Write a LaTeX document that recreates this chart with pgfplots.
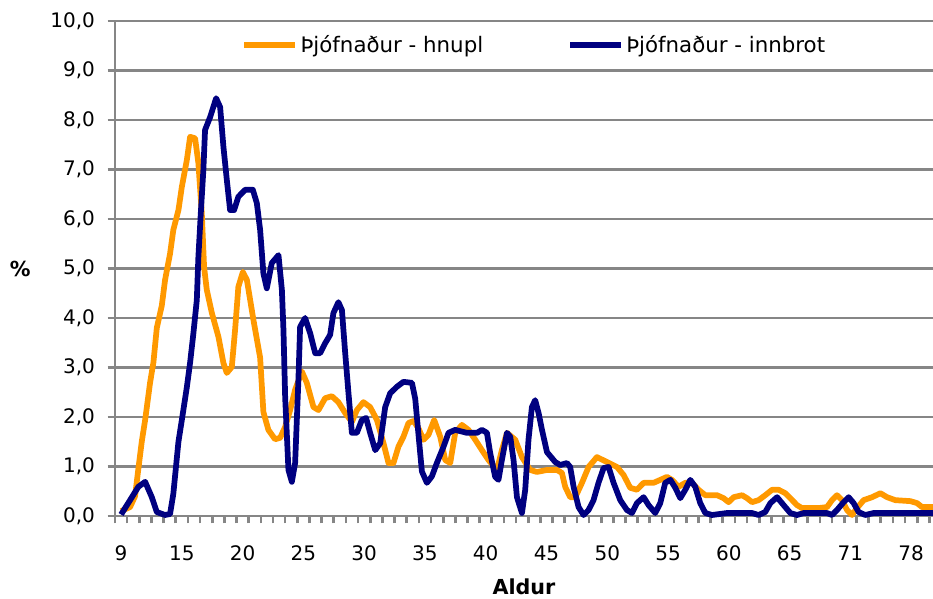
\documentclass[border=0pt]{standalone}
\usepackage{fontspec}
\setmainfont{DejaVu Sans}
\usepackage{pgfplots}
\pgfplotsset{compat=1.18}
\definecolor{hnupl}{RGB}{255,153,0}
\definecolor{innbrot}{RGB}{0,0,128}
\definecolor{gridgray}{RGB}{134,134,134}
\begin{document}
\begin{tikzpicture}
\useasboundingbox (-86.25pt,-62.25pt) rectangle (613.5pt,387pt);
\begin{axis}[
  at={(0,0)}, anchor=south west,
  scale only axis, width=613.5pt, height=371.25pt,
  xmin=-0.5, xmax=66.8, ymin=0, ymax=10,
  clip=false,
  axis x line*=bottom, axis y line*=left,
  axis line style={-, draw=gridgray, line width=2.2pt},
  ytick={0,1,...,10},
  ymajorgrids, major grid style={draw=gridgray, line width=2.2pt},
  tick align=outside, major tick length=5.5pt,
  tick style={draw=gridgray, line width=2pt},
  xtick={-0.5,0.5,...,66.5}, xticklabels={},
  extra x ticks={0,5,...,65},
  extra x tick labels={9,15,20,25,30,35,40,45,50,55,60,65,71,78},
  extra x tick style={major tick length=0pt},
  xticklabel style={yshift=-19pt},
  /pgf/number format/assume math mode=true,
  yticklabel style={xshift=-6pt, /pgf/number format/.cd, fixed, fixed zerofill, precision=1, use comma},
  tick label style={font=\fontsize{15}{18}\selectfont},
  label style={font=\bfseries\fontsize{15.5}{18}\selectfont},
  ylabel={\%},
  ylabel style={rotate=-90, at={(axis description cs:-0.116,0.5)}, anchor=center},
  xlabel={Aldur},
  xlabel style={at={(axis description cs:0.5,-0.143)}, anchor=center},
  legend style={at={(axis description cs:0.513,0.951)}, anchor=center, draw=none, fill=none,
    font=\fontsize{16}{19}\selectfont, legend columns=2,
    /tikz/every even column/.append style={column sep=61pt}},
  legend image code/.code={\draw[#1] (0pt,0pt) -- (38pt,0pt);},
]
\addplot[draw=hnupl, line width=4.3pt, line join=round, no markers] coordinates {
(0,0.10)(0.74,0.18)(1.15,0.40)(1.42,0.95)(1.70,1.50)(1.98,1.94)(2.39,2.70)(2.66,3.10)(2.94,3.80)(3.35,4.25)(3.62,4.77)(4.03,5.30)(4.30,5.78)(4.72,6.18)(5.00,6.65)(5.41,7.19)(5.68,7.66)(6.09,7.63)(6.36,7.13)(6.64,6.12)(6.83,5.03)(7.05,4.57)(7.47,4.10)(8.01,3.62)(8.42,3.09)(8.70,2.89)(9.11,3.01)(9.38,3.76)(9.65,4.63)(10.02,4.93)(10.35,4.77)(10.89,3.96)(11.44,3.20)(11.71,2.10)(12.12,1.74)(12.67,1.55)(13.09,1.58)(13.50,1.80)(13.91,2.14)(14.32,2.55)(14.87,2.92)(15.28,2.69)(15.83,2.20)(16.24,2.14)(16.79,2.38)(17.34,2.42)(17.88,2.30)(18.44,2.08)(18.99,1.90)(19.40,2.14)(19.94,2.30)(20.49,2.20)(21.05,1.94)(21.59,1.47)(22.00,1.07)(22.41,1.07)(22.82,1.40)(23.23,1.60)(23.65,1.88)(24.06,1.92)(24.47,1.77)(24.88,1.54)(25.29,1.64)(25.76,1.94)(26.26,1.60)(26.67,1.13)(27.08,1.07)(27.49,1.68)(28.04,1.84)(28.58,1.74)(29.14,1.54)(29.69,1.33)(30.23,1.13)(30.92,0.93)(31.33,1.33)(31.75,1.68)(32.43,1.54)(32.98,1.19)(33.66,0.93)(34.21,0.89)(35.04,0.93)(35.86,0.93)(36.27,0.87)(36.54,0.59)(36.95,0.38)(37.37,0.38)(37.92,0.67)(38.46,0.99)(39.15,1.19)(39.98,1.09)(40.80,0.99)(41.34,0.83)(41.89,0.57)(42.44,0.53)(42.99,0.67)(43.81,0.67)(44.36,0.73)(44.91,0.79)(45.32,0.73)(45.87,0.59)(46.42,0.67)(46.97,0.67)(47.51,0.53)(48.07,0.42)(49.03,0.42)(49.57,0.36)(49.98,0.28)(50.40,0.38)(51.09,0.42)(51.50,0.36)(51.91,0.28)(52.45,0.32)(53.00,0.42)(53.56,0.53)(54.10,0.53)(54.65,0.46)(55.06,0.36)(55.61,0.22)(56.02,0.16)(57.39,0.16)(58.08,0.18)(58.49,0.32)(58.90,0.42)(59.32,0.32)(59.73,0.12)(60.14,0.02)(60.55,0.16)(61.09,0.32)(61.79,0.38)(62.47,0.46)(63.02,0.38)(63.70,0.32)(64.94,0.30)(65.49,0.26)(65.90,0.18)(66.80,0.18)
};
\addlegendentry{Þjófnaður - hnupl}
\addplot[draw=innbrot, line width=4.3pt, line join=round, no markers] coordinates {
(0,0.03)(0.74,0.32)(1.42,0.59)(1.98,0.69)(2.53,0.38)(2.94,0.08)(3.62,0.02)(4.03,0.04)(4.30,0.45)(4.72,1.50)(5.00,1.94)(5.41,2.60)(5.68,3.10)(5.95,3.69)(6.23,4.36)(6.36,5.23)(6.56,6.12)(6.77,6.99)(6.91,7.80)(7.33,8.06)(7.82,8.44)(8.15,8.26)(8.42,7.46)(8.70,6.79)(8.97,6.18)(9.30,6.18)(9.65,6.45)(10.21,6.59)(10.84,6.59)(11.17,6.32)(11.44,5.78)(11.71,4.90)(11.99,4.60)(12.40,5.11)(12.95,5.27)(13.23,4.57)(13.36,3.76)(13.50,2.40)(13.77,0.93)(14.05,0.69)(14.32,1.07)(14.59,2.75)(14.73,3.82)(15.14,4.00)(15.56,3.69)(15.97,3.29)(16.38,3.29)(16.79,3.49)(17.20,3.66)(17.47,4.10)(17.88,4.32)(18.17,4.16)(18.44,3.29)(18.71,2.48)(18.99,1.68)(19.40,1.68)(19.81,1.94)(20.16,1.98)(20.49,1.68)(20.91,1.33)(21.32,1.47)(21.73,2.20)(22.14,2.48)(22.69,2.61)(23.23,2.71)(23.93,2.69)(24.20,2.37)(24.47,1.64)(24.75,0.90)(25.16,0.67)(25.57,0.80)(25.98,1.07)(26.53,1.40)(26.94,1.68)(27.49,1.74)(28.45,1.68)(29.28,1.68)(29.69,1.74)(30.10,1.68)(30.37,1.27)(30.78,0.79)(31.05,0.73)(31.33,1.13)(31.75,1.68)(32.02,1.60)(32.29,1.13)(32.57,0.38)(32.98,0.06)(33.25,0.53)(33.52,1.54)(33.80,2.20)(34.07,2.34)(34.35,2.08)(34.63,1.74)(35.04,1.29)(35.72,1.09)(36.13,1.03)(36.68,1.07)(36.95,0.99)(37.23,0.59)(37.64,0.18)(38.05,0.02)(38.46,0.12)(38.87,0.32)(39.28,0.67)(39.70,0.97)(40.11,0.99)(40.52,0.67)(41.07,0.32)(41.62,0.12)(42.03,0.06)(42.44,0.26)(42.99,0.38)(43.40,0.22)(43.95,0.06)(44.36,0.26)(44.77,0.67)(45.19,0.73)(45.60,0.57)(46.01,0.36)(46.42,0.53)(46.83,0.73)(47.24,0.59)(47.65,0.26)(48.07,0.06)(48.62,0.02)(49.85,0.06)(51.91,0.06)(52.45,0.02)(53.00,0.08)(53.42,0.26)(53.97,0.38)(54.51,0.22)(55.06,0.06)(55.61,0.02)(56.16,0.06)(58.08,0.06)(58.49,0.02)(58.90,0.12)(59.45,0.28)(59.86,0.38)(60.27,0.26)(60.68,0.08)(61.23,0.02)(61.92,0.06)(66.80,0.06)
};
\addlegendentry{Þjófnaður - innbrot}
\end{axis}
\end{tikzpicture}
\end{document}
